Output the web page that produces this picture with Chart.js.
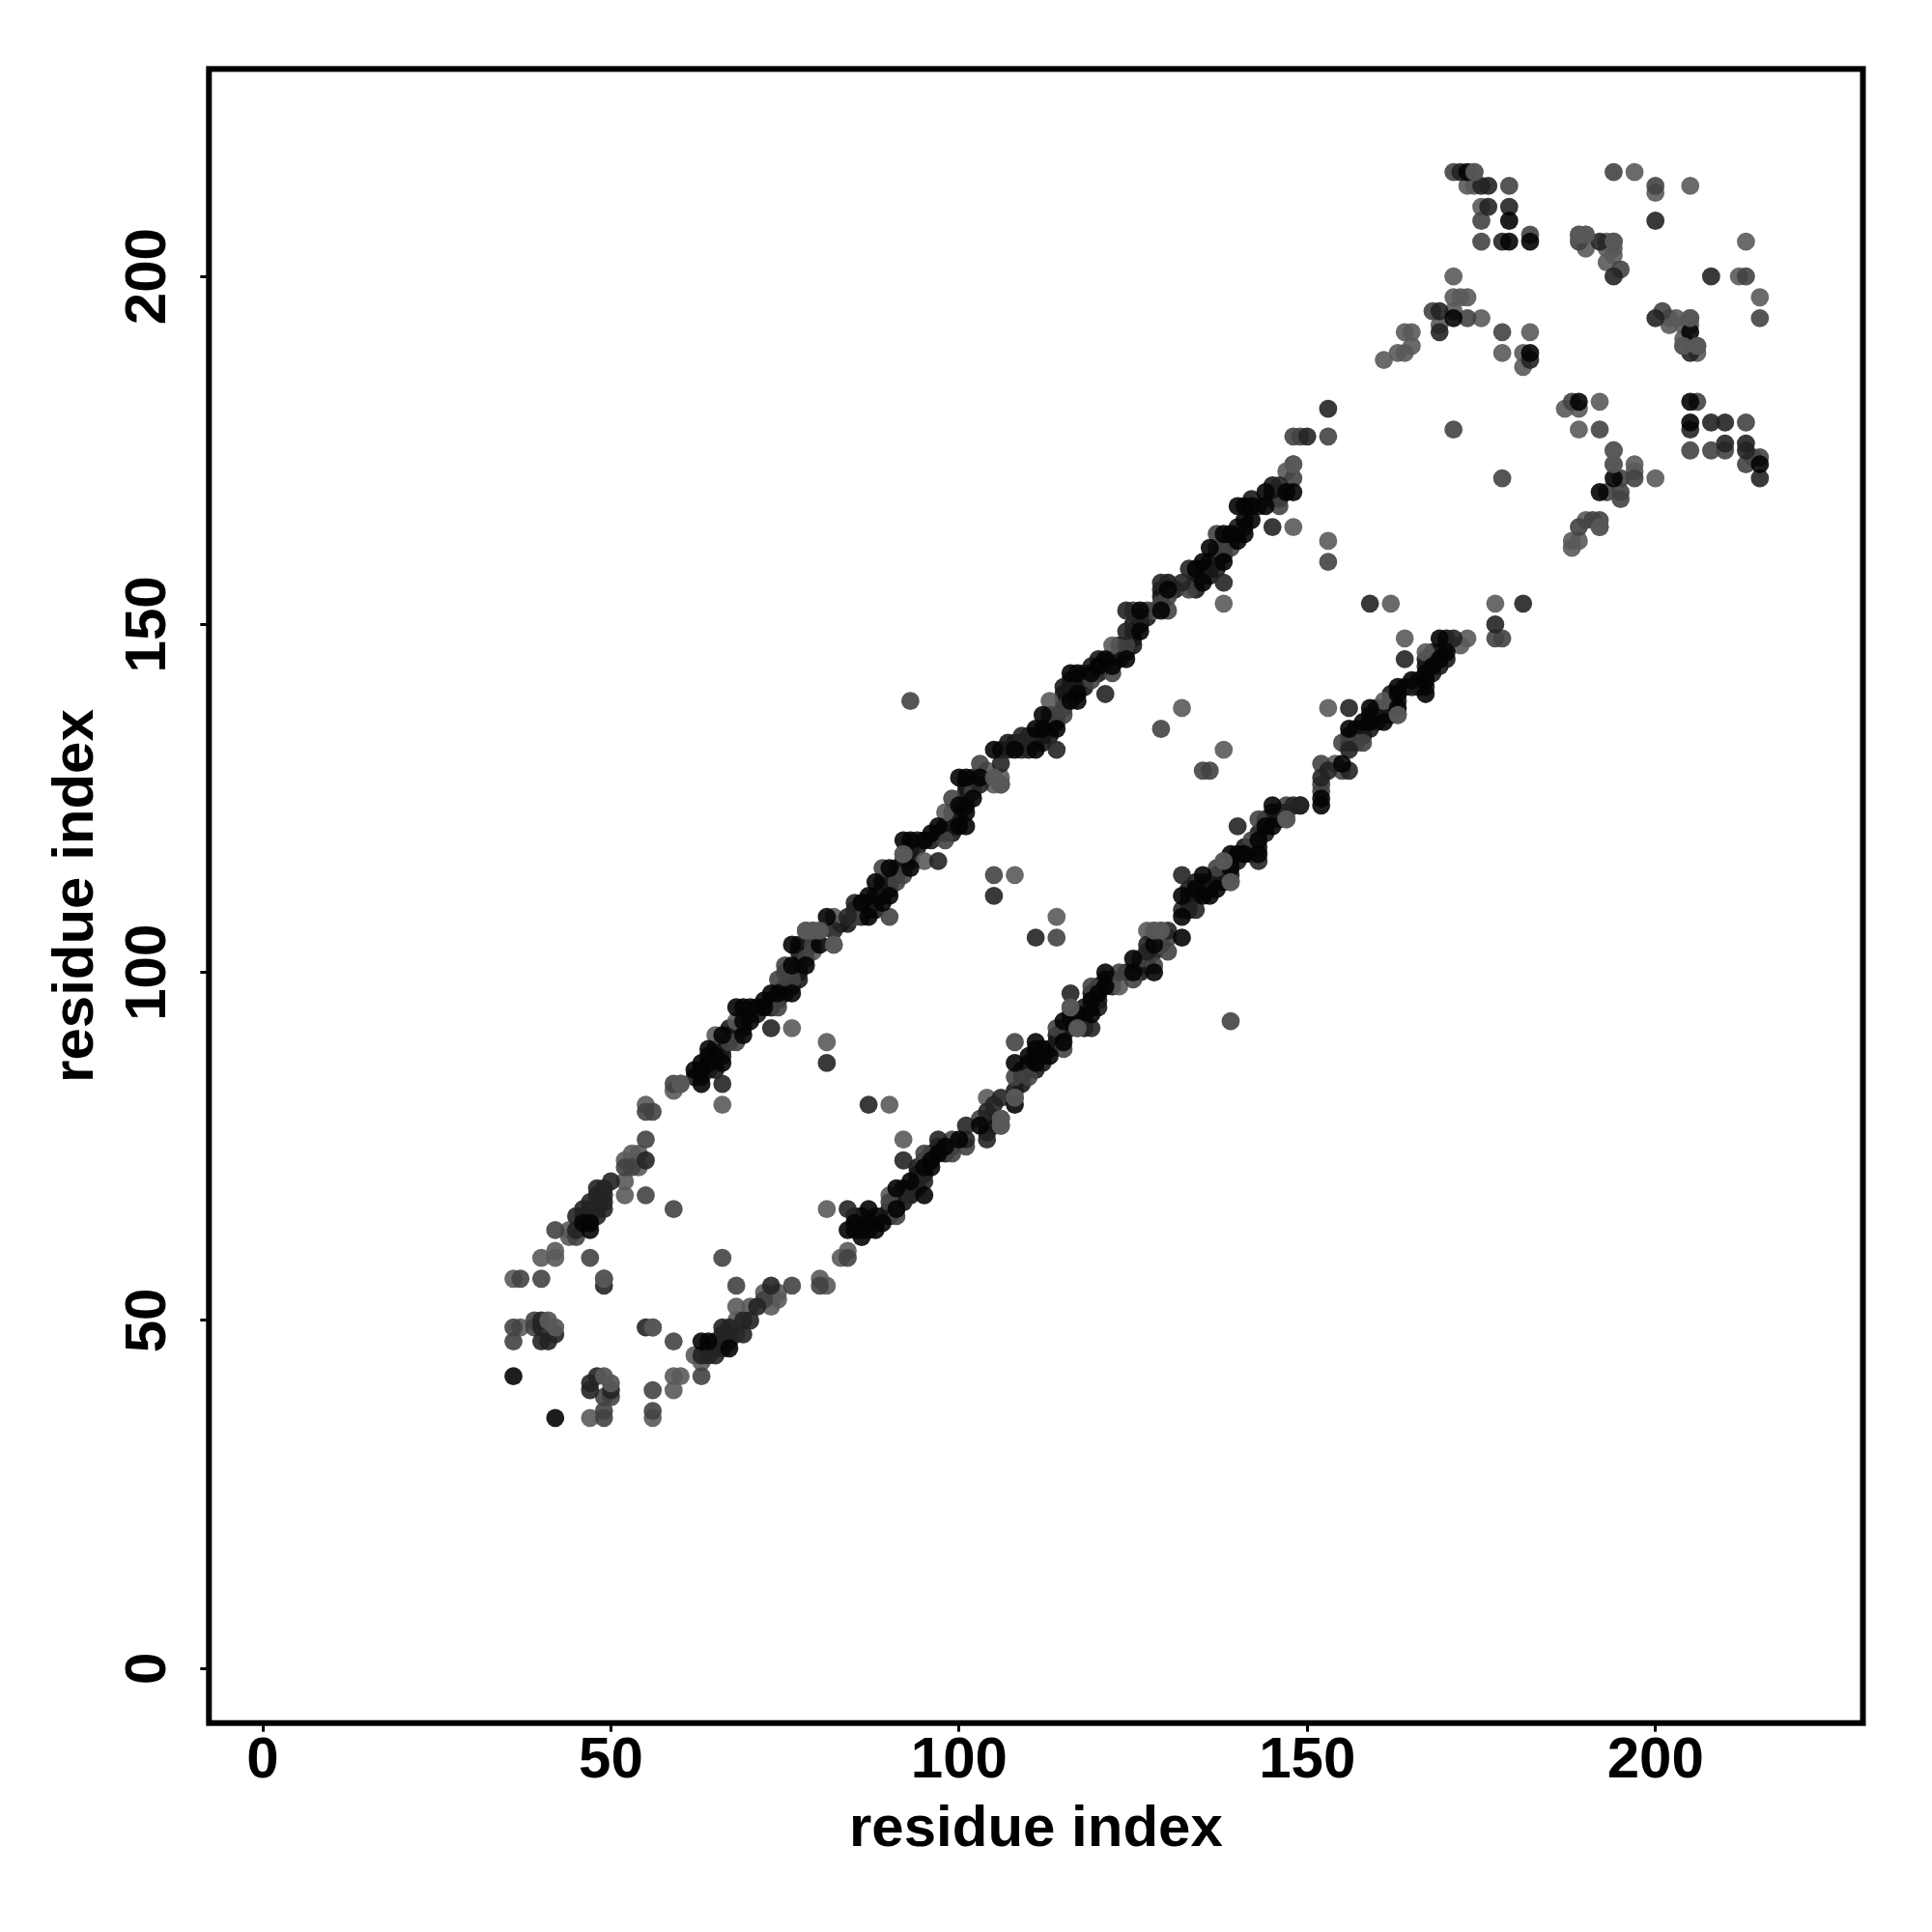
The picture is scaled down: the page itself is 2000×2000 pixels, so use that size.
<!DOCTYPE html>
<html>
<head>
<meta charset="utf-8">
<style>html,body{margin:0;padding:0;background:#fff}canvas{display:block}</style>
<script src="https://cdn.jsdelivr.net/npm/chart.js@4"></script>
</head>
<body>
<canvas id="c" width="2000" height="2000"></canvas>
<script>
const tickValues = [0, 50, 100, 150, 200];
const axisLabel = "residue index";

const lightPoints = [[47,36],[56,36],[59,42],[60,42],[59,40],[37,49],[36,56],[40,59],[42,59],[42,60],[44,63],[44,62],[52,70],[52,68],[52,73],[53,74],[54,74],[54,72],[55,81],[59,83],[60,84],[66,81],[65,91],[68,52],[70,52],[72,54],[74,54],[73,52],[74,53],[68,50],[62,45],[63,44],[68,48],[80,56],[81,55],[81,66],[84,60],[83,59],[90,68],[92,76],[68,93],[76,92],[81,90],[90,81],[78,106],[79,106],[80,106],[79,103],[82,104],[82,108],[95,116],[92,117],[98,123],[104,129],[106,128],[106,127],[105,128],[105,127],[108,114],[114,108],[113,139],[122,147],[128,152],[132,138],[138,132],[138,153],[147,172],[148,173],[148,164],[153,162],[153,138],[162,153],[164,148],[172,147],[173,148],[177,153],[104,82],[106,79],[106,78],[108,82],[116,95],[117,92],[123,98],[127,106],[128,106],[129,106],[129,104],[139,113],[138,116],[147,122],[154,130],[161,139],[163,137],[167,146],[173,213],[174,213],[175,210],[171,200],[171,197],[172,197],[173,197],[171,195],[169,193],[175,194],[178,189],[181,189],[181,187],[182,192],[165,192],[164,192],[165,190],[164,189],[161,188],[163,189],[189,206],[190,206],[190,204],[193,205],[193,204],[194,204],[193,202],[194,203],[197,215],[200,212],[205,213],[213,205],[212,200],[215,197],[202,194],[203,194],[202,193],[204,193],[205,193],[204,191],[204,190],[206,189],[187,181],[189,181],[192,182],[189,178],[188,162],[188,161],[190,165],[189,162],[194,175],[197,173],[197,172],[200,171],[214,174]];

const mediumPoints = [[49,36],[49,37],[56,37],[56,40],[63,42],[49,39],[50,39],[36,49],[36,47],[39,50],[39,49],[56,49],[59,47],[37,56],[40,56],[49,56],[47,59],[45,62],[42,63],[55,68],[55,76],[52,72],[53,72],[55,80],[56,80],[59,84],[59,66],[66,59],[68,55],[76,55],[80,55],[72,53],[84,59],[90,67],[91,65],[93,68],[95,73],[95,74],[99,74],[99,76],[101,75],[103,79],[67,90],[68,90],[74,95],[74,99],[75,100],[75,101],[76,99],[78,102],[79,104],[85,108],[90,108],[89,115],[91,113],[92,114],[98,119],[99,125],[102,126],[103,130],[93,139],[105,114],[108,90],[110,85],[108,85],[114,105],[115,137],[115,138],[113,137],[119,142],[122,143],[124,147],[125,152],[127,152],[130,152],[129,153],[130,154],[133,155],[137,163],[137,161],[139,161],[129,135],[135,129],[146,167],[148,171],[148,177],[149,177],[153,177],[153,159],[115,89],[114,92],[119,98],[123,100],[125,99],[126,102],[128,101],[130,103],[130,105],[137,115],[142,119],[143,122],[147,124],[136,129],[152,126],[152,127],[152,130],[155,129],[155,133],[157,133],[158,133],[139,93],[177,148],[178,148],[171,215],[174,215],[179,213],[175,208],[175,205],[182,206],[168,195],[173,194],[178,192],[194,215],[200,213],[189,205],[194,205],[201,195],[205,194],[206,190],[195,201],[213,200],[215,194],[188,182],[192,178],[205,175],[208,175],[210,175],[213,179],[206,182],[213,173],[215,174],[194,173],[197,171],[195,171],[195,169],[195,168],[193,169],[178,171],[171,178],[192,165],[192,164],[191,165],[189,164]];

const darkPoints = [[47,41],[47,40],[48,42],[50,40],[40,50],[40,49],[42,48],[41,47],[40,47],[55,49],[49,55],[45,63],[45,65],[46,66],[48,69],[49,66],[49,67],[50,70],[55,73],[66,84],[70,50],[69,50],[69,48],[66,49],[66,46],[65,45],[64,45],[73,55],[71,52],[67,47],[73,92],[81,87],[87,81],[84,66],[92,73],[93,68],[95,70],[94,69],[97,116],[84,108],[85,110],[82,106],[101,78],[101,76],[97,76],[104,76],[104,80],[106,82],[105,81],[116,97],[119,92],[127,103],[127,104],[130,106],[132,109],[132,114],[134,109],[139,114],[140,121],[143,116],[147,123],[148,124],[149,124],[152,128],[153,129],[156,129],[156,132],[156,138],[149,124],[103,127],[106,130],[109,132],[109,134],[110,134],[114,132],[121,140],[105,111],[111,105],[124,149],[124,152],[126,151],[129,156],[132,156],[133,158],[138,156],[145,164],[146,170],[150,177],[153,181],[159,153],[164,145],[171,148],[177,150],[181,153],[172,215],[175,213],[176,213],[176,210],[179,210],[178,205],[200,208],[192,205],[194,200],[208,200],[169,195],[169,192],[182,188],[205,189],[200,194],[205,178],[208,179],[210,179],[210,176],[213,176],[213,175],[215,171],[63,45],[64,46],[65,46],[65,47],[66,47],[66,48],[67,48],[67,49],[46,65],[47,65],[47,66],[48,65],[48,66],[47,67],[48,68],[49,68],[49,69]];

const blackPoints = [[36,42],[42,36],[47,63],[46,64],[47,64],[63,47],[64,47],[67,46],[84,63],[86,62],[87,66],[87,64],[85,64],[88,63],[89,64],[91,69],[91,66],[95,68],[93,70],[95,72],[96,73],[97,74],[98,75],[100,76],[96,72],[103,78],[108,81],[108,87],[110,88],[111,90],[111,87],[112,89],[113,88],[115,93],[115,90],[117,94],[119,94],[119,96],[120,97],[121,100],[121,98],[125,100],[128,100],[125,102],[132,105],[128,104],[132,108],[132,111],[135,114],[134,112],[135,111],[136,111],[137,112],[139,117],[139,115],[140,117],[141,117],[143,117],[143,119],[144,121],[145,124],[145,121],[152,124],[152,125],[156,135],[155,130],[158,136],[159,138],[159,136],[161,136],[163,138],[163,141],[163,140],[165,142],[167,140],[167,142],[167,143],[168,144],[169,145],[169,148],[170,146],[63,84],[62,86],[63,86],[63,87],[64,89],[66,87],[65,88],[64,87],[66,91],[69,91],[69,93],[70,93],[68,95],[69,95],[70,95],[72,95],[72,96],[73,97],[74,97],[76,97],[76,101],[78,101],[76,104],[80,104],[81,108],[87,108],[87,111],[86,110],[90,111],[89,110],[88,113],[90,115],[93,115],[92,119],[93,119],[95,119],[96,120],[97,121],[100,124],[100,121],[101,121],[102,125],[101,123],[100,128],[101,128],[103,128],[105,132],[108,132],[111,132],[111,135],[112,135],[112,137],[114,135],[117,139],[117,140],[116,139],[116,143],[117,143],[119,143],[120,144],[121,145],[122,144],[124,145],[126,149],[126,152],[129,152],[130,155],[135,156],[134,158],[135,159],[136,161],[138,159],[138,163],[139,163],[141,163],[140,162],[141,165],[142,165],[140,167],[141,167],[142,167],[144,167],[144,169],[148,169],[147,169],[173,215],[179,208],[179,205],[182,205],[171,194],[182,189],[189,182],[205,182],[205,179],[205,192],[215,173],[194,171],[192,169]];

const upperBandPoints = [[62,85],[63,85],[64,86],[65,87],[65,86],[64,88],[65,89],[66,89],[66,88],[66,90],[67,91],[67,92],[68,91],[68,92],[69,92],[70,94],[71,94],[71,95],[73,96],[73,95],[74,96],[75,97],[75,98],[76,98],[77,99],[77,100],[76,100],[77,101],[77,103],[77,104],[78,103],[78,104],[79,105],[83,107],[84,107],[85,109],[86,109],[86,108],[87,109],[87,110],[88,109],[88,110],[88,111],[89,111],[89,112],[89,113],[90,112],[90,113],[91,115],[91,114],[92,115],[92,116],[93,116],[93,117],[93,118],[94,118],[94,119],[96,119],[97,120],[98,120],[98,121],[99,120],[99,121],[99,123],[100,122],[100,123],[101,124],[101,125],[101,126],[102,127],[101,127],[102,128],[106,132],[107,132],[107,133],[108,133],[109,133],[110,133],[110,132],[111,133],[111,134],[112,134],[112,133],[113,134],[113,135],[113,136],[114,136],[114,137],[115,139],[115,140],[115,141],[116,140],[116,141],[116,142],[117,142],[118,143],[118,142],[118,141],[119,144],[120,143],[120,145],[121,144],[122,145],[123,145],[123,147],[124,146],[125,147],[125,148],[125,149],[125,150],[126,150],[127,151],[129,154],[129,155],[130,156],[131,155],[134,155],[134,156],[134,157],[135,157],[135,158],[136,157],[136,158],[136,159],[137,158],[137,159],[137,160],[138,160],[138,161],[139,162],[140,163],[140,164],[141,164],[143,167],[142,168],[145,168],[145,169],[146,169],[145,170],[146,168]];

const lowerBandPoints = [[85,63],[85,65],[86,63],[86,64],[86,65],[87,63],[88,64],[88,65],[89,65],[90,65],[90,66],[92,67],[92,68],[92,69],[93,69],[94,70],[94,71],[94,72],[95,71],[96,74],[97,75],[98,74],[99,75],[105,79],[105,78],[104,77],[104,78],[104,79],[108,83],[109,84],[109,85],[109,86],[110,86],[110,87],[111,86],[111,88],[111,89],[112,87],[112,88],[113,89],[114,90],[114,91],[115,91],[115,92],[116,92],[116,93],[116,94],[117,93],[118,92],[118,93],[118,94],[118,95],[119,95],[119,97],[120,95],[120,96],[120,98],[121,99],[122,99],[122,98],[124,100],[126,100],[126,101],[127,101],[127,102],[128,103],[133,109],[133,110],[133,111],[133,112],[134,111],[134,113],[135,112],[135,113],[136,112],[136,113],[137,113],[137,114],[138,113],[138,114],[138,115],[139,116],[140,116],[141,118],[142,118],[142,117],[143,118],[143,120],[144,120],[144,122],[145,122],[145,123],[146,122],[146,123],[156,133],[156,134],[157,134],[157,135],[158,134],[158,135],[159,135],[159,137],[160,136],[160,137],[160,138],[161,137],[161,138],[162,138],[162,139],[162,140],[162,137],[163,139],[164,141],[165,141],[166,142],[166,141],[167,141],[167,144],[167,145],[168,143],[168,145],[168,146],[169,144],[169,146],[170,147],[170,145],[170,148]];

const topLightPoints = [[174,215],[42,49],[41,50],[50,41],[49,42],[49,56],[56,49],[108,82],[60,84],[148,173],[205,194],[206,190],[204,190],[194,175],[194,173],[194,205],[192,164],[189,206],[190,206],[106,79],[106,78],[116,95],[117,92],[147,122],[139,113],[163,137],[138,116],[78,106],[79,106],[80,106],[82,104],[105,128],[106,127],[128,106],[129,106],[92,117]];

const shadeLayers = [
  {points: upperBandPoints, color: "rgba(24,24,24,0.9)"},
  {points: lowerBandPoints, color: "rgba(24,24,24,0.9)"},
  {points: lightPoints, color: "rgba(90,90,90,0.9)"},
  {points: mediumPoints, color: "rgba(66,66,66,0.9)"},
  {points: darkPoints, color: "rgba(36,36,36,0.9)"},
  {points: blackPoints, color: "rgba(4,4,4,0.9)"},
  {points: topLightPoints, color: "rgba(88,88,88,0.95)"}
];

const frame = {
  id: "frame",
  afterDraw(chart) {
    const a = chart.chartArea, g = chart.ctx;
    g.save();
    g.strokeStyle = "#000";
    g.lineWidth = 6;
    g.strokeRect(a.left, a.top, a.right - a.left, a.bottom - a.top);
    g.restore();
  }
};

const tickFont = {family: "'Liberation Sans'", size: 60, weight: "bold", lineHeight: 1.2};
function axis(extra) {
  return Object.assign({
    type: "linear",
    grid: {drawOnChartArea: false, drawTicks: true, tickLength: 9, tickWidth: 3, tickColor: "#000"},
    border: {display: false},
    afterBuildTicks(s) { s.ticks = tickValues.map(v => ({value: v})); }
  }, extra);
}

new Chart(document.getElementById("c"), {
  type: "scatter",
  data: {
    datasets: shadeLayers.map((l, i) => ({
      label: "layer" + i,
      data: l.points.map(p => ({x: p[0], y: p[1]})),
      backgroundColor: l.color,
      borderWidth: 0,
      pointRadius: 9.4,
      order: shadeLayers.length - i
    }))
  },
  plugins: [frame],
  options: {
    responsive: false,
    animation: false,
    layout: {padding: {left: 0, top: 71.4, right: 71.5, bottom: 0}},
    plugins: {legend: {display: false}, tooltip: {enabled: false}},
    scales: {
      x: axis({
        min: -7.73, max: 229.8,
        afterFit(s) { s.height = 216.3; },
        ticks: {color: "#000", font: tickFont, autoSkip: false, maxRotation: 0, minRotation: 0, padding: -5},
        title: {display: true, text: axisLabel, color: "#000", font: tickFont, padding: {top: 0, bottom: 70}}
      }),
      y: axis({
        min: -7.83, max: 229.8,
        afterFit(s) { s.width = 216.3; },
        ticks: {color: "#000", font: tickFont, autoSkip: false, minRotation: 90, maxRotation: 90, crossAlign: "center", padding: 3},
        title: {display: true, text: axisLabel, color: "#000", font: tickFont, padding: {top: 43.5, bottom: 0}}
      })
    }
  }
});
</script>
</body>
</html>
